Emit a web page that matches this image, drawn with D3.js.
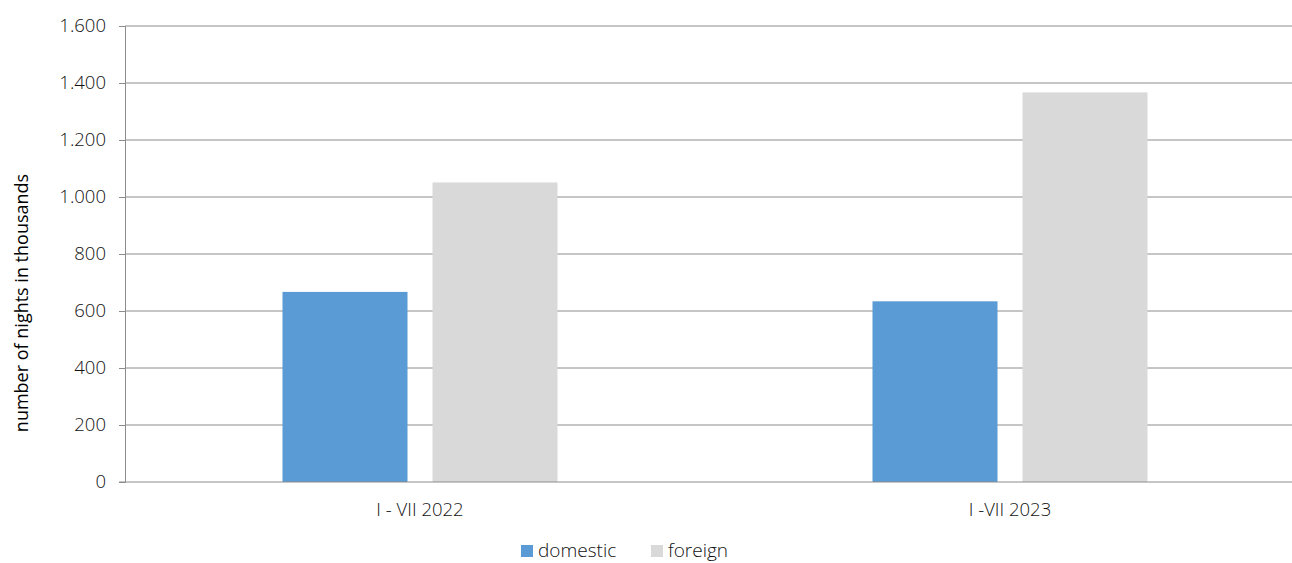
<!DOCTYPE html>
<html>
<head>
<meta charset="utf-8">
<script src="https://cdn.jsdelivr.net/npm/d3@7"></script>
<style>
  body { margin: 0; background: #fff; }
  text { font-family: "Open Sans", "Lato", sans-serif; font-weight: 300; fill: #111; }
</style>
</head>
<body>
<svg id="chart" width="1292" height="563"></svg>
<script>
const categories = ["I - VII 2022", "I -VII 2023"];
const seriesNames = ["domestic", "foreign"];
const domestic = [667, 634];
const foreign = [1051, 1367];
const yTicks = [0, 200, 400, 600, 800, 1000, 1200, 1400, 1600];
const colors = ["#5b9bd5", "#d9d9d9"];

const svg = d3.select("#chart");
const plotLeft = 125, plotRight = 1305, plotTop = 26, plotBottom = 482;

const locale = d3.formatLocale({decimal: ",", thousands: ".", grouping: [3], currency: ["", ""]});
const fmt = locale.format(",d");

const y = d3.scaleLinear().domain([0, 1600]).range([plotBottom, plotTop]);
const x0 = d3.scaleBand().domain(categories).range([plotLeft, plotRight]).paddingInner(0).paddingOuter(0);
const x1 = d3.scaleBand().domain(seriesNames).range([157.5, 590 - 157.5]).paddingInner(25 / 150);

// gridlines
svg.append("g").selectAll("line")
    .data(yTicks.filter(d => d > 0))
    .enter().append("line")
    .attr("x1", plotLeft).attr("x2", plotRight)
    .attr("y1", d => y(d)).attr("y2", d => y(d))
    .attr("stroke", "#8c8c8c").attr("stroke-width", 1);

// bars
const rows = categories.map((c, i) => ({cat: c, values: [domestic[i], foreign[i]]}));
svg.append("g").selectAll("g")
    .data(rows)
    .enter().append("g")
    .attr("transform", d => `translate(${x0(d.cat)},0)`)
    .selectAll("rect")
    .data(d => d.values.map((v, j) => ({key: seriesNames[j], v: v, j: j})))
    .enter().append("rect")
    .attr("x", d => x1(d.key))
    .attr("width", x1.bandwidth())
    .attr("y", d => y(d.v))
    .attr("height", d => plotBottom - y(d.v))
    .attr("fill", d => colors[d.j]);

// y axis
const yAxis = d3.axisLeft(y).tickValues(yTicks).tickSize(6).tickPadding(13).tickFormat(fmt);
const ya = svg.append("g").attr("transform", `translate(${plotLeft},0)`).call(yAxis);
ya.select(".domain").attr("stroke", "#8c8c8c");
ya.selectAll(".tick line").attr("stroke", "#8c8c8c");
ya.selectAll(".tick text").attr("font-size", 18.5).attr("fill", "#111")
    .style("font-family", "'Open Sans', sans-serif").style("font-weight", 300);

// x axis baseline
svg.append("line")
    .attr("x1", plotLeft - 6).attr("x2", plotRight)
    .attr("y1", plotBottom).attr("y2", plotBottom)
    .attr("stroke", "#8c8c8c");

svg.append("g").selectAll("text")
    .data(categories)
    .enter().append("text")
    .attr("x", d => x0(d) + x0.bandwidth() / 2)
    .attr("y", 516)
    .attr("text-anchor", "middle")
    .attr("font-size", 18.5)
    .text(d => d);

// y title
svg.append("text")
    .attr("transform", "translate(28,303) rotate(-90)")
    .attr("text-anchor", "middle")
    .attr("font-size", 18)
    .style("font-weight", 400)
    .style("fill", "#000")
    .text("number of nights in thousands");

// legend
const legendX = [521, 651];
const lg = svg.append("g").selectAll("g")
    .data(seriesNames)
    .enter().append("g")
    .attr("transform", (d, i) => `translate(${legendX[i]},545)`);
lg.append("rect").attr("width", 12).attr("height", 12).attr("fill", (d, i) => colors[i]);
lg.append("text").attr("x", 17).attr("y", 12).attr("font-size", 19).text(d => d);
</script>
</body>
</html>
